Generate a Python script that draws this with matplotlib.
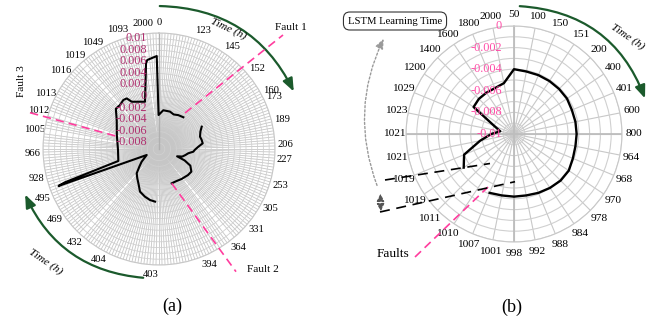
import numpy as np
import matplotlib
matplotlib.use('Agg')
import matplotlib.pyplot as plt
from matplotlib.patches import FancyArrowPatch
from matplotlib.lines import Line2D
from matplotlib.transforms import offset_copy

plt.rcParams['font.family'] = ['Liberation Serif', 'DejaVu Serif']

# ---------------- data: panel (a) ----------------
a_tick_angles = [0, 20.4, 35.4, 50.6, 62.5, 65.5, 76.7, 88, 95, 106.6, 118, 129.6, 141,
                 156.6, 184, 208.8, 222, 235.8, 247, 256.6, 267.8, 279, 288, 296, 308.7,
                 318, 328, 341, 352.5]
a_tick_labels = ['0', '123', '145', '152', '160', '173', '189', '206', '227', '253', '305',
                 '331', '364', '394', '403', '404', '432', '469', '495', '928', '966',
                 '1005', '1012', '1013', '1016', '1019', '1049', '1093', '2000']
a_r_ticks = [0.01, 0.008, 0.006, 0.004, 0.002, 0, -0.002, -0.004, -0.006, -0.008]
a_r_labels = ['0.01', '0.008', '0.006', '0.004', '0.002', '0', '-0.002', '-0.004',
              '-0.006', '-0.008']
a_theta_deg = [6.3, 16.4, 23, 29.6, 37.5, 48,
               62.4, 67, 73.3, 78, 82.6, 86.7, 91, 94.5, 98.3, 103, 108, 112, 114, 118,
               125, 132, 138, 143, 152, 159.7, 172,
               184.3, 190, 196.4, 204, 211, 216.5, 222.5, 228, 233.8, 244, 249.8, 250.5,
               253.6, 268.6, 288, 304, 313, 318.4, 324, 327.5, 330, 338, 343.5, 351.4,
               352.5, 358.6, 359.3]
a_values = [-0.00328, -0.00328, -0.00353, -0.00328, -0.00310, np.nan,
            -0.00169, -0.00224, -0.00262, -0.00248, -0.00240, -0.00321, -0.00379,
            -0.00407, -0.00490, -0.00534, -0.00578, -0.00664, -0.00517, -0.00388,
            -0.00319, -0.00328, -0.00345, -0.00353, -0.00371, -0.00369, np.nan,
            -0.00090, -0.00107, -0.00143, -0.00195, -0.00310, -0.00371, -0.00431,
            -0.00543, -0.00629, -0.00764, 0.00845, 0.00724, -0.00269, -0.00293,
            -0.00236, -0.00121, 0.00017, 0.00014, 0.00045, 0.00034, -0.00059,
            -0.00121, -0.00150, 0.00495, 0.00548, 0.00603, -0.00414]

# ---------------- data: panel (b) ----------------
b_tick_labels = ['50', '100', '150', '151', '200', '400', '401', '600', '800', '964',
                 '968', '970', '978', '984', '988', '992', '998', '1001', '1007', '1010',
                 '1011', '1019', '1019', '1021', '1021', '1023', '1029', '1200', '1400',
                 '1600', '1800', '2000']
b_values = [-0.0040, -0.0041, -0.0041, -0.0041, -0.0041, -0.0041, -0.0042, -0.0042,
            -0.0042, -0.0042, -0.0041, -0.0039, -0.0039, -0.0040, -0.0041, -0.0042,
            -0.0042, -0.0042, -0.0041, np.nan, np.nan, -0.0044, -0.0050, -0.0068,
            -0.0079, -0.0087, -0.0080, -0.0055, -0.0054, -0.0054, -0.0054, -0.0052]
b_r_ticks = [0, -0.002, -0.004, -0.006, -0.008, -0.01]
b_r_labels = ['0', '-0.002', '-0.004', '-0.006', '-0.008', '-0.01']

W, H = 661, 324
fig = plt.figure(figsize=(W / 100, H / 100), dpi=100)


def P(x, y):
    return (x / W, 1 - y / H)


def roll_after_gap(th, vals):
    th = list(th)
    vals = list(vals)
    k = next(i for i, v in enumerate(vals) if np.isnan(v))
    return th[k + 1:] + th[:k], vals[k + 1:] + vals[:k]


green = '#1b5a2c'
pink = '#ff3d9e'

# ---------------- panel (a) ----------------
cx, cy, R = 159, 149, 116
axa = fig.add_axes([(cx - R) / W, 1 - (cy + R) / H, 2 * R / W, 2 * R / H], projection='polar')
axa.set_theta_zero_location('N')
axa.set_theta_direction(-1)
axa.set_ylim(-0.01, 0.01)
axa.set_yticks(np.round(np.arange(-0.01, 0.01001, 0.001), 4))
axa.set_yticklabels([])
axa.set_xticks(np.deg2rad(a_tick_angles))
axa.set_xticklabels(a_tick_labels, fontsize=7.6)
axa.set_xticks(np.deg2rad(np.arange(0, 360, 1.5)), minor=True)
axa.xaxis.grid(False, which='major')
axa.xaxis.grid(True, which='minor', color='#c6c6c6', lw=0.6)
axa.yaxis.grid(True, color='#d0d0d0', lw=0.6)
axa.tick_params(axis='x', which='both', length=0, pad=0.3)
axa.spines['polar'].set_color('#c8c8c8')
axa.spines['polar'].set_linewidth(0.8)
axa.axvline(0, color='#b0b0b0', lw=1.0)

th, vv = roll_after_gap(a_theta_deg, a_values)
axa.plot(np.deg2rad(th), vv, color='black', lw=1.5, zorder=5)

ta = offset_copy(axa.transData, fig=fig, x=-12, y=-5, units='dots')
for v, s in zip(a_r_ticks, a_r_labels):
    axa.text(0, v, s, transform=ta, ha='right', va='center', fontsize=8.8,
             color='#b0306f', zorder=6)

# ---------------- panel (b) ----------------
cx2, cy2, R2 = 514, 134, 108
axb = fig.add_axes([(cx2 - R2) / W, 1 - (cy2 + R2) / H, 2 * R2 / W, 2 * R2 / H],
                   projection='polar')
axb.set_theta_zero_location('N')
axb.set_theta_direction(-1)
axb.set_ylim(-0.01, 0)
axb.set_yticks(np.round(np.arange(-0.01, 0.0001, 0.001), 4))
axb.set_yticklabels([])
b_angles = np.arange(len(b_tick_labels)) * 360 / len(b_tick_labels)
axb.set_xticks(np.deg2rad(b_angles))
axb.set_xticklabels(b_tick_labels, fontsize=8.2)
axb.xaxis.grid(True, color='#c8c8c8', lw=0.8)
axb.yaxis.grid(True, color='#d0d0d0', lw=0.8)
axb.tick_params(axis='x', length=0, pad=1.5)
axb.spines['polar'].set_color('#c8c8c8')
axb.spines['polar'].set_linewidth(0.8)
for a in (0, 90, 180, 270):
    axb.axvline(np.deg2rad(a), color='#bdbdbd', lw=1.3)

th, vv = roll_after_gap(b_angles, b_values)
axb.plot(np.deg2rad(th), vv, color='black', lw=1.7, zorder=5)

tb = offset_copy(axb.transData, fig=fig, x=-12, y=0, units='dots')
for v, s in zip(b_r_ticks, b_r_labels):
    axb.text(0, v, s, transform=tb, ha='right', va='center', fontsize=8.8,
             color='#ff4fa8', zorder=6)

# ---------------- annotations ----------------
def fline(p1, p2, **kw):
    (x1, y1), (x2, y2) = P(*p1), P(*p2)
    fig.add_artist(Line2D([x1, x2], [y1, y2], transform=fig.transFigure, **kw))


def farrow(p1, p2, rad, **kw):
    fig.add_artist(FancyArrowPatch(P(*p1), P(*p2), transform=fig.transFigure,
                                   connectionstyle=f'arc3,rad={rad}', **kw))


dash_pink = dict(color=pink, lw=1.2, dashes=(5, 3))
fline((185, 113), (283, 35), **dash_pink)
fline((171.7, 183.3), (236, 271.7), **dash_pink)
fline((30, 112.7), (118.3, 136.7), **dash_pink)
fline((415, 257), (488, 187), **dash_pink)

dash_blk = dict(color='black', lw=1.2, dashes=(6, 4))
fline((385, 180), (490, 163.5), **dash_blk)
fline((380, 212), (515, 181.7), **dash_blk)

gstyle = dict(arrowstyle='-|>,head_length=0.55,head_width=0.22', mutation_scale=14,
              color=green, lw=1.6)
farrow((157, 6), (295, 94), -0.31, **gstyle)
farrow((146, 278), (24, 192), -0.30, **gstyle)
farrow((517, 6), (646, 101), -0.33, **gstyle)

farrow((378, 188), (385, 36), -0.22, arrowstyle='-|>,head_length=0.5,head_width=0.2',
       mutation_scale=12, color='#9a9a9a', lw=1.0, linestyle=(0, (1.5, 1.5)))
farrow((380.5, 203), (380.5, 191), 0.0, arrowstyle='-|>,head_length=0.5,head_width=0.25',
       mutation_scale=9, color='#555555', lw=0.9, linestyle=(0, (2, 1.5)))
farrow((380.5, 202), (381, 214), 0.0, arrowstyle='-|>,head_length=0.5,head_width=0.25',
       mutation_scale=9, color='#555555', lw=0.9, linestyle=(0, (2, 1.5)))

fs = 8.2
fig.text(*P(291, 27), 'Fault 1', ha='center', va='center', fontsize=fs)
fig.text(*P(263, 270), 'Fault 2', ha='center', va='center', fontsize=fs)
fig.text(*P(21, 81), 'Fault 3', ha='center', va='center', fontsize=fs, rotation=90)
fig.text(*P(393, 254), 'Faults', ha='center', va='center', fontsize=9.6)

fig.text(*P(228, 29), 'Time (h)', ha='center', va='center', fontsize=8.2,
         style='italic', rotation=-25)
fig.text(*P(46, 262), 'Time (h)', ha='center', va='center', fontsize=8.2,
         style='italic', rotation=-34)
fig.text(*P(628, 37), 'Time (h)', ha='center', va='center', fontsize=8.2,
         style='italic', rotation=-34)

fig.text(*P(395, 21), 'LSTM Learning Time', ha='center', va='center', fontsize=7.7,
         bbox=dict(boxstyle='round,pad=0.42,rounding_size=0.6', fc='white',
                   ec='#333333', lw=0.8))

fig.text(*P(172, 306), '(a)', ha='center', va='center', fontsize=13)
fig.text(*P(512, 307), '(b)', ha='center', va='center', fontsize=13)

fig.savefig('out.png', dpi=100)
